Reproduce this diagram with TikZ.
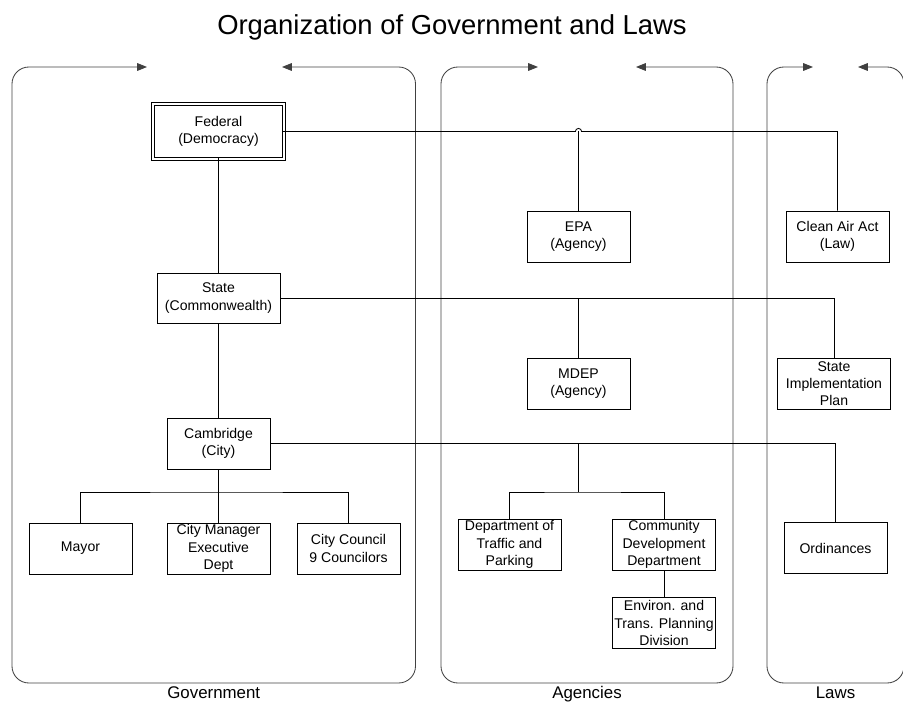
\documentclass[tikz,border=0pt]{standalone}
\usepackage{fontspec}
\setmainfont{Liberation Sans}
\usetikzlibrary{arrows.meta}

\begin{document}
\begin{tikzpicture}[x=0.025cm,y=-0.025cm,line width=0.6pt,
  >={Triangle[length=7pt,width=5.5pt]},
  box/.style={draw,align=center,inner sep=1pt,minimum width=2.575cm,minimum height=1.275cm,font=\fontsize{10}{12.3}\selectfont},
  panel/.style={draw=black!75,rounded corners=12pt,<->},
  lbl/.style={anchor=base,font=\fontsize{12}{14}\selectfont}]
\useasboundingbox (0,0) rectangle (903,702);

\node[font=\fontsize{19.5}{22}\selectfont] (title) at (452,27) {Organization of Government and Laws};

\draw[panel] (147,67) -| (12,683) -| (415.5,67) -- (282,67);
\draw[panel] (538,67) -| (441,683) -| (733,67) -- (636,67);
\draw[panel] (813,67) -| (767,683) -| (904,67) -- (858,67);

\node[lbl] (govlbl) at (213.75,698) {Government};
\node[lbl] (agylbl) at (587,698) {Agencies};
\node[lbl] (lawlbl) at (835.5,698) {Laws};

\node[box,minimum width=3.2cm,minimum height=1.3cm] (fed) at (218.5,131.5) {Federal\\(Democracy)};
\draw ([shift={(-1.6pt,1.6pt)}]fed.north west) rectangle ([shift={(1.6pt,-1.6pt)}]fed.south east);
\node[box,minimum width=3.075cm,minimum height=1.25cm] (state) at (218.5,298) {State\\(Commonwealth)};
\node[box] (cam) at (218.5,443.5) {Cambridge\\(City)};
\node[box] (mayor) at (80.5,548.5) {Mayor};
\node[box] (mgr) at (218.5,548.5) {City Manager\\Executive\\Dept};
\node[box] (council) at (348.5,548.5) {City Council\\9 Councilors};

\node[box] (epa) at (578.5,236.5) {EPA\\(Agency)};
\node[box] (mdep) at (578.5,383.5) {MDEP\\(Agency)};
\node[box] (traffic) at (509.5,544.5) {Department of\\Traffic and\\Parking};
\node[box] (cdd) at (664,544.5) {Community\\Development\\Department};
\node[box] (env) at (664,623) {Environ. and\\Trans. Planning\\Division};

\node[box] (caa) at (837.5,236.5) {Clean Air Act\\(Law)};
\node[box,minimum width=2.825cm] (sip) at (834,383.5) {State\\Implementation\\Plan};
\node[box] (ord) at (835.5,548) {Ordinances};

\coordinate (cbar) at (218.5,492);
\coordinate (abar) at (578.5,492);
\coordinate (hop) at (epa.north |- fed.east);

\draw (fed) -- (state);
\draw (state) -- (cam);
\draw (cam) -- (mgr);
\draw (mayor) |- (cbar) -| (council);

\draw (fed.east) -- ([xshift=-2.2pt]hop) arc[start angle=180,end angle=0,radius=2.2pt] -| (caa);
\draw (epa) -- (hop);
\draw (state) -| (sip);
\draw (mdep) -- (mdep |- state);
\draw (cam) -| (ord);
\draw (abar) -- (abar |- cam);
\draw (traffic) |- (abar) -| (cdd);
\draw (cdd) -- (env);
\end{tikzpicture}
\end{document}
